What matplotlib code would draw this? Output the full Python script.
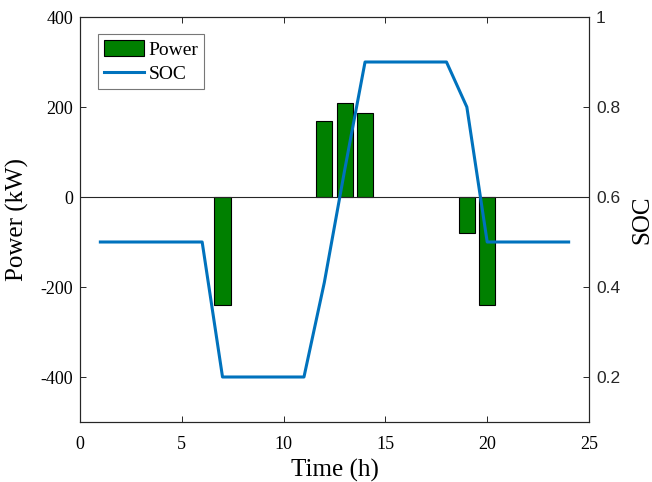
import numpy as np
import matplotlib
matplotlib.use('Agg')
import matplotlib.pyplot as plt

plt.rcParams['axes.unicode_minus'] = False

# hourly data
bar_hours = [7, 12, 13, 14, 19, 20]
power_kw = [-240, 170, 208, 186, -80, -240]

soc_hours = list(range(1, 25))
soc = [0.5, 0.5, 0.5, 0.5, 0.5, 0.5,
       0.2, 0.2, 0.2, 0.2, 0.2,
       0.41, 0.66, 0.9, 0.9, 0.9, 0.9, 0.9,
       0.8, 0.5, 0.5, 0.5, 0.5, 0.5]

left_ticks = [-400, -200, 0, 200, 400]
right_ticks = [0.2, 0.4, 0.6, 0.8, 1.0]
right_labels = ['0.2', '0.4', '0.6', '0.8', '1']
x_ticks = [0, 5, 10, 15, 20, 25]

serif = 'Liberation Serif'
sans = 'Liberation Sans'
edge = '#262626'

fig = plt.figure(figsize=(6.52, 4.82), dpi=100)
ax1 = fig.add_axes([80/652, 1-422/482, 509/652, 405/482])
ax2 = ax1.twinx()

# bars on the left axis
bars = ax1.bar(bar_hours, power_kw, width=0.8, color='#008000',
               edgecolor='k', linewidth=0.8, label='Power', zorder=2)
ax1.axhline(0, color=edge, lw=0.8, zorder=3)
ax1.set_xlim(0, 25)
ax1.set_ylim(-500, 400)
ax1.set_xticks(x_ticks)
ax1.set_yticks(left_ticks)
ax1.tick_params(direction='in', length=4, width=0.7, colors=edge,
                top=True, right=False, labelsize=13)
ax1.tick_params(axis='x', pad=10)
ax1.tick_params(axis='y', pad=5)
for lab in ax1.get_xticklabels() + ax1.get_yticklabels():
    lab.set_fontfamily(serif)
    lab.set_color('k')
ax1.set_xlabel('Time (h)', fontsize=18, fontfamily=serif, labelpad=4)
ax1.set_ylabel('Power (kW)', fontsize=18, fontfamily=serif, labelpad=8)

# SOC line on the right axis
line, = ax2.plot(soc_hours, soc, color='#0072BD', lw=2.2, label='SOC', zorder=4)
ax2.set_ylim(0.1, 1.0)
ax2.set_yticks(right_ticks)
ax2.set_yticklabels(right_labels)
ax2.tick_params(direction='in', length=4, width=0.7, colors=edge,
                labelsize=12.5, pad=5)
for lab in ax2.get_yticklabels():
    lab.set_fontfamily(sans)
    lab.set_color('#262626')
ax2.set_ylabel('SOC', fontsize=18, fontfamily=serif, labelpad=8)

for ax in (ax1, ax2):
    for s in ax.spines.values():
        s.set_color(edge)
        s.set_linewidth(0.8)

leg = ax2.legend([bars, line], ['Power', 'SOC'], loc='upper left',
                 bbox_to_anchor=(0.035, 0.958), borderaxespad=0,
                 prop={'family': serif, 'size': 14}, fancybox=False,
                 edgecolor='#777777', framealpha=1, handlelength=2.1,
                 handleheight=0.9, handletextpad=0.2, borderpad=0.3,
                 labelspacing=0.3)
leg.get_frame().set_linewidth(0.8)

fig.savefig('out.png', dpi=100)
